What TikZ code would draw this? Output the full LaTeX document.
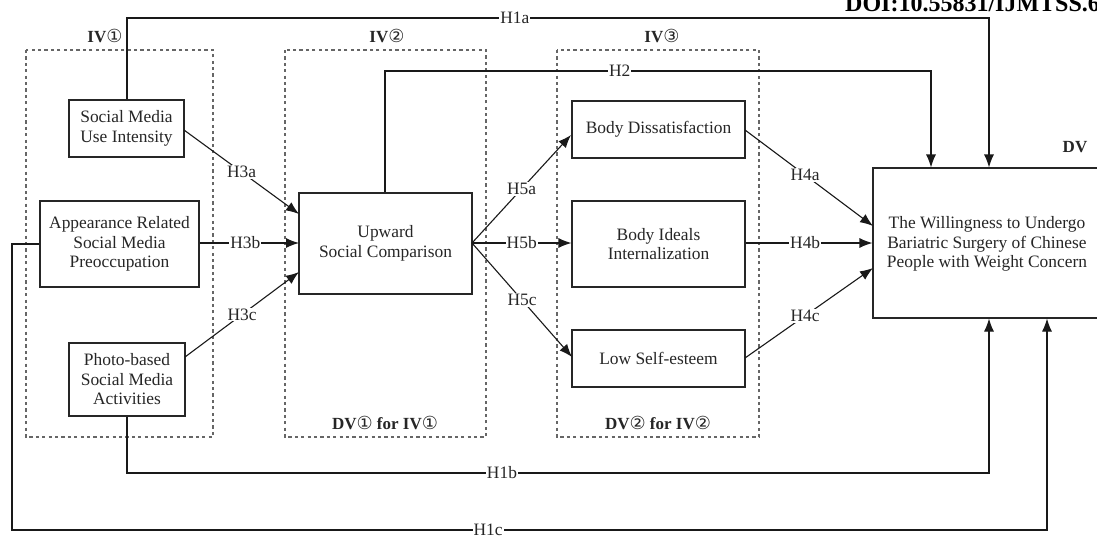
\documentclass[tikz,border=0pt]{standalone}
\usepackage{fontspec}
\setmainfont{Liberation Serif}
\newfontfamily\circfont{DejaVu Sans}
\usetikzlibrary{arrows.meta}
\newcommand{\cnum}[1]{{\circfont\mdseries\fontsize{18}{18}\selectfont\char\numexpr"245F+#1\relax}}
\begin{document}
\begin{tikzpicture}[x=1pt,y=-1pt,
  txt/.style={font=\fontsize{17.4}{19.5}\selectfont, text=black!85},
  box/.style={draw=black!85, line width=1.1pt, fill=white, align=center, txt, inner sep=0pt},
  grp/.style={draw=black!60, line width=1.3pt, dash pattern=on 3.2pt off 3.2pt},
  conn/.style={draw=black!90, line width=1.1pt},
  arr/.style={conn, -{Latex[length=13pt,width=10pt]}},
  lab/.style={txt, fill=white, inner sep=1pt},
  hdr/.style={font=\fontsize{17}{19.5}\selectfont\bfseries, text=black!85}]
\useasboundingbox (0,0) rectangle (1097,539);
% DOI header (cut at the top, as in the source)
\node[anchor=base west, font=\fontsize{24}{24}\selectfont\bfseries, inner sep=0pt] (doi) at (845,11) {DOI:10.55831/IJMTSS.6};
% group boxes
\draw[grp] (26,50) rectangle (213,437);
\draw[grp] (285,50) rectangle (486,437);
\draw[grp] (557,50) rectangle (759,437);
\node[hdr] (iv1) at (105,36) {IV\cnum{1}};
\node[hdr] (iv2) at (387,36) {IV\cnum{2}};
\node[hdr] (iv3) at (662,36) {IV\cnum{3}};
\node[hdr] (dv1) at (385,423) {DV\cnum{1} for IV\cnum{1}};
\node[hdr] (dv2) at (658,423) {DV\cnum{2} for IV\cnum{2}};
\node[hdr] (dvl) at (1075,147) {DV};
% boxes
\node[box, minimum width=115pt, minimum height=57pt] (smu) at (126.5,128.5) {Social Media\\Use Intensity};
\node[box, minimum width=159pt, minimum height=86pt] (app) at (119.5,244) {Appearance Related\\Social Media\\Preoccupation};
\node[box, minimum width=116pt, minimum height=73pt] (pho) at (127,379.5) {Photo-based\\Social Media\\Activities};
\node[box, minimum width=173pt, minimum height=101pt] (usc) at (385.5,243.5) {Upward\\Social Comparison};
\node[box, minimum width=173pt, minimum height=57pt] (bd) at (658.5,129.5) {Body Dissatisfaction};
\node[box, minimum width=173pt, minimum height=86pt] (bi) at (658.5,244) {Body Ideals\\Internalization};
\node[box, minimum width=173pt, minimum height=57pt] (lse) at (658.5,358.5) {Low Self-esteem};
\node[box, minimum width=229pt, minimum height=150pt] (dv) at (987.5,243) {};
\node[txt, align=center] (dvt) at (987,244) {The Willingness to Undergo\\Bariatric Surgery of Chinese\\People with Weight Concern};
% coordinates
\coordinate (h3aS) at (184,130);
\coordinate (h3aE) at (299,214);
\coordinate (h3bE) at (299,243);
\coordinate (h3cS) at (185,357);
\coordinate (h3cE) at (299,272);
\coordinate (h5S) at (472,243);
\coordinate (h5aE) at (571,135);
\coordinate (h5cE) at (572,357);
\coordinate (h4aS) at (745,130);
\coordinate (h4aE) at (873,226);
\coordinate (h4cS) at (745,358);
\coordinate (h4cE) at (873,268);
% H3
\draw[arr] (h3aS) -- node[lab, pos=0.5] {H3a} (h3aE);
\draw[arr] (app.east |- h3bE) -- node[lab, pos=0.46] {H3b} (h3bE);
\draw[arr] (h3cS) -- node[lab, pos=0.5] {H3c} (h3cE);
% H5
\draw[arr] (h5S) -- node[lab, pos=0.5] {H5a} (h5aE);
\draw[arr] (h5S) -- node[lab, pos=0.5] {H5b} (bi.west |- h5S);
\draw[arr] (h5S) -- node[lab, pos=0.5] {H5c} (h5cE);
% H4
\draw[arr] (h4aS) -- node[lab, pos=0.47] {H4a} (h4aE);
\draw[arr] (bi.east |- h5S) -- node[lab, pos=0.47] {H4b} (dv.west |- h5S);
\draw[arr] (h4cS) -- node[lab, pos=0.47] {H4c} (h4cE);
% H2
\coordinate (h2a) at (385,71);
\coordinate (h2b) at (931,71);
\draw[arr] (usc.north -| h2a) -- (h2a) -- node[lab, pos=0.43] {H2} (h2b) -- (h2b |- dv.north);
% H1a
\coordinate (h1aA) at (127,18);
\coordinate (h1aB) at (989,18);
\draw[arr] (smu.north -| h1aA) -- (h1aA) -- node[lab, pos=0.45] {H1a} (h1aB) -- (h1aB |- dv.north);
% H1b
\coordinate (h1bA) at (127,473);
\coordinate (h1bB) at (989,473);
\draw[arr] (pho.south -| h1bA) -- (h1bA) -- node[lab, pos=0.435] {H1b} (h1bB) -- (h1bB |- dv.south);
% H1c
\coordinate (h1cA) at (12,244);
\coordinate (h1cB) at (12,530);
\coordinate (h1cC) at (1047,530);
\draw[arr] (app.west) -- (h1cA) -- (h1cB) -- node[lab, pos=0.46] {H1c} (h1cC) -- (h1cC |- dv.south);
\end{tikzpicture}
\end{document}
